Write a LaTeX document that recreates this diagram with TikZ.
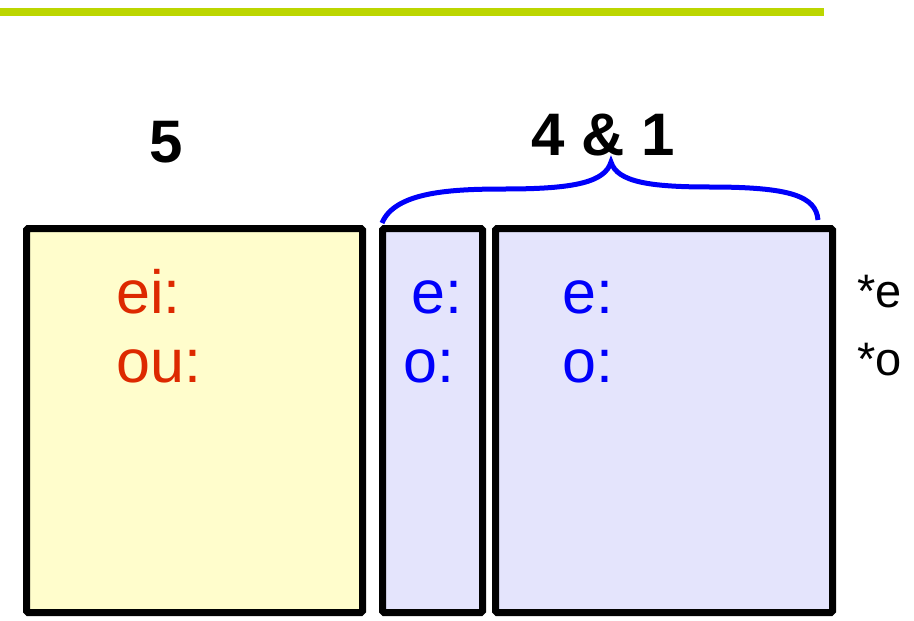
\documentclass[tikz,border=0pt]{standalone}
\usepackage{fontspec}
\setmainfont{Liberation Sans}
\definecolor{lime}{RGB}{188,214,0}
\definecolor{paleyellow}{RGB}{255,253,204}
\definecolor{paleblue}{RGB}{228,228,252}
\definecolor{vred}{RGB}{221,41,0}
\definecolor{vblue}{RGB}{0,0,250}
\begin{document}
\begin{tikzpicture}[x=1pt,y=-1pt,
  box/.style={draw=black,line width=7pt,rounded corners=1.5pt,inner sep=0pt,outer sep=0pt,anchor=north west},
  big/.style={anchor=base west,font=\fontsize{61}{72}\selectfont,inner sep=0pt},
  small/.style={anchor=base west,font=\fontsize{47}{56}\selectfont,inner sep=0pt},
  head/.style={anchor=base,font=\bfseries\fontsize{60}{70}\selectfont,inner sep=0pt}]
\useasboundingbox (0,0) rectangle (914,621);
\coordinate (l0) at (0,12);
\coordinate (l1) at (824,12);
\draw[lime,line width=8pt] (l0) -- (l1);
\node[box,fill=paleyellow,minimum width=336pt,minimum height=384pt] (b1) at (26.5,228.5) {};
\node[box,fill=paleblue,minimum width=100pt,minimum height=384pt] (b2) at (382.5,228.5) {};
\node[box,fill=paleblue,minimum width=337pt,minimum height=384pt] (b3) at (495.5,228.5) {};
\node[head] (h5) at (166,162) {5};
\node[head] (h41) at (603,155) {4 \& 1};
\node[big,text=vred] (ei) at (116,313) {ei:};
\node[big,text=vred] (ou) at (116,382) {ou:};
\node[big,text=vblue] (e2) at (411,313) {e:};
\node[big,text=vblue] (o2) at (403,382) {o:};
\node[big,text=vblue] (e3) at (562,313) {e:};
\node[big,text=vblue] (o3) at (562,382) {o:};
\node[small] (se) at (857,307) {*e};
\node[small] (so) at (857,375) {*o};
\coordinate (bl) at (382,223);
\coordinate (bt) at (611,162);
\coordinate (br) at (818,220);
\draw[vblue,line width=5pt] (bl) .. controls (395,192) and (450,189) .. (505,189)
  .. controls (575,189) and (605,182) .. (bt)
  .. controls (617,182) and (650,187) .. (710,187)
  .. controls (790,187) and (816,196) .. (br);
\end{tikzpicture}
\end{document}
